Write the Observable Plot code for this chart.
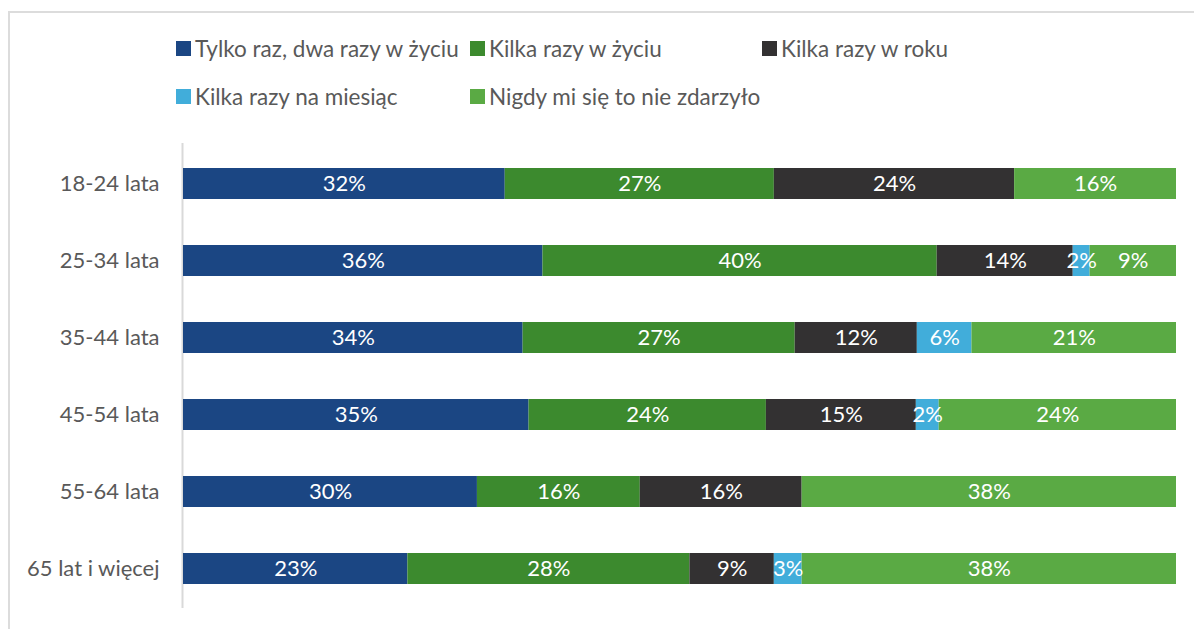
<!DOCTYPE html>
<html>
<head>
<meta charset="utf-8">
<script src="https://cdn.jsdelivr.net/npm/d3@7"></script>
<script src="https://cdn.jsdelivr.net/npm/@observablehq/plot@0.6"></script>
<style>
  html, body { margin: 0; padding: 0; background: #fff; overflow: hidden; }
  #frame { position: relative; width: 1194px; height: 629px; overflow: hidden; font-family: Lato, "Open Sans", sans-serif; }
  #border { position: absolute; left: 8px; top: 11px; width: 1300px; height: 700px; border-left: 2px solid #dcdcdc; border-top: 2px solid #dcdcdc; }
  .lg { position: absolute; display: flex; align-items: center; font-size: 22.5px; color: #595959; white-space: nowrap; }
  .sw { width: 15px; height: 15px; margin-right: 4px; flex: none; }
  #chart { position: absolute; left: 0; top: 128px; }
</style>
</head>
<body>
<div id="frame">
  <div id="border"></div>
  <div id="legend"></div>
  <div id="chart"></div>
</div>
<script>
const categories = ["18-24 lata", "25-34 lata", "35-44 lata", "45-54 lata", "55-64 lata", "65 lat i więcej"];
const series = ["Tylko raz, dwa razy w życiu", "Kilka razy w życiu", "Kilka razy w roku", "Kilka razy na miesiąc", "Nigdy mi się to nie zdarzyło"];
const colors = ["#1B4683", "#3C8A2E", "#333132", "#41ADDA", "#5AAA44"];

const tylkoRazDwa    = [32.4, 36.2, 34.2, 34.8, 29.6, 22.6];
const kilkaRazyZycie = [27.1, 39.7, 27.4, 23.9, 16.4, 28.4];
const kilkaRazyRok   = [24.2, 13.7, 12.3, 15.1, 16.3, 8.5];
const kilkaRazyMies  = [0, 1.7, 5.5, 2.3, 0, 2.8];
const nigdy          = [16.3, 8.7, 20.6, 23.9, 37.7, 37.7];

const seriesValues = [tylkoRazDwa, kilkaRazyZycie, kilkaRazyRok, kilkaRazyMies, nigdy];

const data = [];
categories.forEach((cat, i) => {
  series.forEach((s, j) => {
    data.push({cat, series: s, value: seriesValues[j][i]});
  });
});

// legend
const legendPos = [[176, 48], [470, 48], [762, 48], [176, 96], [470, 96]];
const legend = document.getElementById("legend");
series.forEach((s, j) => {
  const el = document.createElement("div");
  el.className = "lg";
  el.style.left = legendPos[j][0] + "px";
  el.style.top = (legendPos[j][1] - 14) + "px";
  el.style.height = "28px";
  const sw = document.createElement("span");
  sw.className = "sw";
  sw.style.background = colors[j];
  const tx = document.createElement("span");
  tx.textContent = s;
  el.appendChild(sw);
  el.appendChild(tx);
  legend.appendChild(el);
});

const chart = Plot.plot({
  width: 1194,
  height: 501,
  marginLeft: 183,
  marginRight: 18,
  marginTop: 15,
  marginBottom: 21,
  style: {fontFamily: "Lato, 'Open Sans', sans-serif", fontSize: "22px", color: "#595959", background: "transparent"},
  x: {domain: [0, 100], axis: null},
  y: {domain: categories, paddingInner: 0.6, paddingOuter: 0.3, label: null, tickSize: 0, tickPadding: 24},
  color: {domain: series, range: colors},
  marks: [
    Plot.ruleX([0], {stroke: "#d9d9d9", strokeWidth: 2, dx: -1}),
    Plot.barX(data, Plot.stackX({x: "value", y: "cat", fill: "series"})),
    Plot.text(data, Plot.stackX({
      x: "value", y: "cat",
      text: d => d.value > 0 ? Math.round(d.value) + "%" : "",
      fill: "white", fontSize: 22
    }))
  ]
});
document.getElementById("chart").appendChild(chart);
</script>
</body>
</html>
